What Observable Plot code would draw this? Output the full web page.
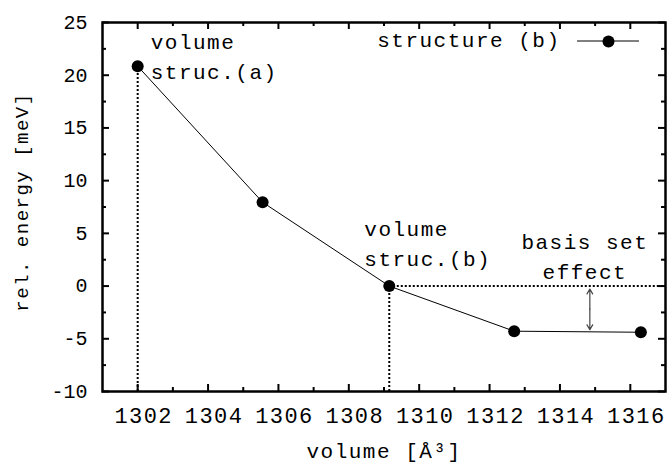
<!DOCTYPE html>
<html><head><meta charset="utf-8">
<script src="https://cdn.jsdelivr.net/npm/d3@7"></script>
<script src="https://cdn.jsdelivr.net/npm/@observablehq/plot@0.6"></script>
<style>
body{margin:0;background:#fff}
#chart svg{display:block}
g[aria-label="text"] text{letter-spacing:1.5px}
g[aria-label="x-axis tick label"] text{letter-spacing:1.4px}
</style>
</head><body><div id="chart"></div>
<script>
// data
const volume = [1302.0, 1305.55, 1309.15, 1312.7, 1316.3];
const energy = [20.85, 7.95, 0.0, -4.28, -4.38];
const seriesName = "structure (b)";
const xTicks = [1302, 1304, 1306, 1308, 1310, 1312, 1314, 1316];
const xMinorTicks = [1303, 1305, 1307, 1309, 1311, 1313, 1315];
const yTicks = [-10, -5, 0, 5, 10, 15, 20, 25];
const yMinorTicks = [-7.5, -2.5, 2.5, 7.5, 12.5, 17.5, 22.5];
const xDomain = [1301, 1317];
const yDomain = [-10, 25];
const xLabel = "volume [Å³]";
const yLabel = "rel. energy [meV]";
const noteA = "volume\nstruc.(a)";
const noteB = "volume\nstruc.(b)";
const noteBasis = "basis set\neffect";
const arrowX = 1314.85;
const arrowTop = 0;
const arrowBottom = -4.33;

const W = 667, H = 463, mL = 102, mR = 2, mT = 22, mB = 72;
const innerW = W - mL - mR, innerH = H - mT - mB;
const font = "Liberation Mono, DejaVu Sans Mono, monospace";
const idx = d3.range(volume.length);
const arrowMid = (arrowTop + arrowBottom) / 2;
const fmt = d => String(d);

const chart = Plot.plot({
  width: W, height: H,
  marginLeft: mL, marginRight: mR, marginTop: mT, marginBottom: mB,
  x: {domain: xDomain},
  y: {domain: yDomain},
  style: {fontFamily: font, fontSize: "21px", color: "black", background: "white"},
  marks: [
    // tick labels
    Plot.axisY(yTicks, {tickSize: 0, tickPadding: 15, fontSize: 20, label: null, tickFormat: fmt}),
    Plot.axisX(xTicks, {tickSize: 0, tickPadding: 16, fontSize: 22, label: null, tickFormat: fmt, dx: 6}),
    // inward ticks
    Plot.tickX(xTicks, {x: d => d, insetTop: innerH - 7, strokeWidth: 2}),
    Plot.tickX(xTicks, {x: d => d, insetBottom: innerH - 7, strokeWidth: 2}),
    Plot.tickX(xMinorTicks, {x: d => d, insetTop: innerH - 4, strokeWidth: 2}),
    Plot.tickX(xMinorTicks, {x: d => d, insetBottom: innerH - 4, strokeWidth: 2}),
    Plot.tickY(yTicks, {y: d => d, insetRight: innerW - 7, strokeWidth: 2}),
    Plot.tickY(yTicks, {y: d => d, insetLeft: innerW - 7, strokeWidth: 2}),
    Plot.tickY(yMinorTicks, {y: d => d, insetRight: innerW - 4, strokeWidth: 2}),
    Plot.tickY(yMinorTicks, {y: d => d, insetLeft: innerW - 4, strokeWidth: 2}),
    // dotted guides
    Plot.ruleX([0], {x: i => volume[i], y1: yDomain[0], y2: i => energy[i], strokeWidth: 2, strokeDasharray: "2,2"}),
    Plot.ruleX([2], {x: i => volume[i], y1: yDomain[0], y2: i => energy[i], strokeWidth: 2, strokeDasharray: "2,2"}),
    Plot.ruleY([2], {y: i => energy[i], x1: i => volume[i], x2: xDomain[1], strokeWidth: 2, strokeDasharray: "2,2"}),
    // basis set arrow
    Plot.arrow([0], {x1: arrowX, y1: arrowMid, x2: arrowX, y2: arrowTop, stroke: "#444", strokeWidth: 1.2, headLength: 7, insetEnd: 3}),
    Plot.arrow([0], {x1: arrowX, y1: arrowMid, x2: arrowX, y2: arrowBottom, stroke: "#444", strokeWidth: 1.2, headLength: 7, insetEnd: 2}),
    // series
    Plot.line(idx, {x: i => volume[i], y: i => energy[i], stroke: "black", strokeWidth: 1}),
    Plot.dot(idx, {x: i => volume[i], y: i => energy[i], r: 6, fill: "black"}),
    // annotations
    Plot.text([noteA], {x: volume[0], y: energy[0], text: d => d, textAnchor: "start", lineAnchor: "top", lineHeight: 1.42, dx: 13, dy: -38}),
    Plot.text([noteB], {x: volume[2], y: energy[2], text: d => d, textAnchor: "start", lineAnchor: "top", lineHeight: 1.42, dx: -25, dy: -71}),
    Plot.text([noteBasis], {x: arrowX, y: arrowTop, text: d => d, textAnchor: "middle", lineAnchor: "top", lineHeight: 1.42, dx: -5, dy: -58}),
    // legend
    Plot.text([seriesName], {frameAnchor: "top-right", text: d => d, textAnchor: "end", lineAnchor: "middle", dx: -105, dy: 18}),
    Plot.dot([seriesName], {frameAnchor: "top-right", r: 6, fill: "black", dx: -57, dy: 19}),
    // axis titles
    Plot.text([xLabel], {frameAnchor: "bottom", text: d => d, lineAnchor: "middle", dx: 0, dy: 60}),
    Plot.text([yLabel], {frameAnchor: "left", text: d => d, rotate: -90, textAnchor: "middle", lineAnchor: "middle", dx: -81, dy: -5, fontSize: 19}),
    Plot.frame({strokeWidth: 2.5})
  ]
});
document.getElementById("chart").appendChild(chart);

// legend sample line
const svg = d3.select(chart);
svg.append("line")
  .attr("x1", W - mR - 88).attr("x2", W - mR - 26)
  .attr("y1", mT + 19).attr("y2", mT + 19)
  .attr("stroke", "black").attr("stroke-width", 1);
</script>
</body></html>
